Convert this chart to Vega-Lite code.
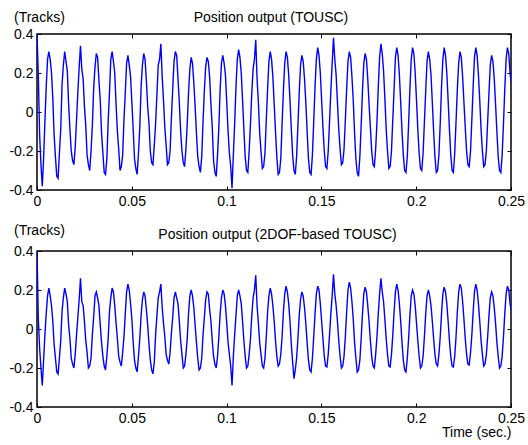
{
"$schema": "https://vega.github.io/schema/vega-lite/v6.json",
"padding": {"left": 8, "top": 9, "right": 1, "bottom": 2},
"spacing": 13,
"config": {
 "font": "Liberation Sans",
 "view": {"stroke": "black", "strokeWidth": 1.5},
 "axis": {"domain": false, "grid": false, "ticks": true, "tickSize": -4, "tickColor": "black", "labelFontSize": 14, "labelColor": "black", "labelPadding": 8, "labelFlush": false, "titleFontSize": 14, "titleFontWeight": "normal", "titleColor": "black", "labelFont": "Liberation Sans", "titleFont": "Liberation Sans"}
},
"datasets": {"sig": [
{"t":0,"a":0.4,"b":0.4},{"t":0.0007,"a":0.19,"b":0.05},{"t":0.00139,"a":-0.12,"b":-0.1},{"t":0.00209,"a":-0.27,"b":-0.2},{"t":0.00278,"a":-0.38,"b":-0.29},{"t":0.00348,"a":-0.24,"b":-0.16},{"t":0.00417,"a":-0.05,"b":-0.03},{"t":0.00487,"a":0.13,"b":0.08},{"t":0.00556,"a":0.27,"b":0.17},{"t":0.00626,"a":0.31,"b":0.21},{"t":0.00695,"a":0.27,"b":0.17},{"t":0.00765,"a":0.2,"b":0.12},
{"t":0.00834,"a":0.07,"b":0.04},{"t":0.00904,"a":-0.12,"b":-0.08},{"t":0.00973,"a":-0.23,"b":-0.15},{"t":0.01043,"a":-0.33,"b":-0.22},{"t":0.01112,"a":-0.34,"b":-0.23},{"t":0.01182,"a":-0.21,"b":-0.15},{"t":0.01251,"a":-0.09,"b":-0.06},{"t":0.01321,"a":0.14,"b":0.09},{"t":0.0139,"a":0.24,"b":0.16},{"t":0.0146,"a":0.31,"b":0.21},{"t":0.01529,"a":0.26,"b":0.18},{"t":0.01599,"a":0.21,"b":0.14},
{"t":0.01668,"a":0.04,"b":0.02},{"t":0.01738,"a":-0.09,"b":-0.05},{"t":0.01807,"a":-0.2,"b":-0.15},{"t":0.01877,"a":-0.25,"b":-0.18},{"t":0.01946,"a":-0.27,"b":-0.2},{"t":0.02016,"a":-0.18,"b":-0.13},{"t":0.02085,"a":-0.04,"b":-0.03},{"t":0.02155,"a":0.1,"b":0.06},{"t":0.02224,"a":0.23,"b":0.15},{"t":0.02294,"a":0.34,"b":0.26},{"t":0.02363,"a":0.22,"b":0.14},{"t":0.02433,"a":0.17,"b":0.12},
{"t":0.02502,"a":0.03,"b":0.04},{"t":0.02572,"a":-0.07,"b":-0.06},{"t":0.02641,"a":-0.22,"b":-0.12},{"t":0.02711,"a":-0.27,"b":-0.2},{"t":0.0278,"a":-0.3,"b":-0.19},{"t":0.0285,"a":-0.2,"b":-0.15},{"t":0.02919,"a":-0.07,"b":-0.03},{"t":0.02989,"a":0.12,"b":0.06},{"t":0.03058,"a":0.23,"b":0.17},{"t":0.03128,"a":0.3,"b":0.19},{"t":0.03197,"a":0.28,"b":0.16},{"t":0.03267,"a":0.16,"b":0.12},
{"t":0.03336,"a":0.06,"b":0.02},{"t":0.03406,"a":-0.11,"b":-0.07},{"t":0.03475,"a":-0.21,"b":-0.14},{"t":0.03545,"a":-0.31,"b":-0.19},{"t":0.03614,"a":-0.32,"b":-0.21},{"t":0.03684,"a":-0.24,"b":-0.14},{"t":0.03753,"a":-0.05,"b":-0.05},{"t":0.03823,"a":0.1,"b":0.09},{"t":0.03892,"a":0.27,"b":0.16},{"t":0.03962,"a":0.31,"b":0.21},{"t":0.04031,"a":0.26,"b":0.19},{"t":0.04101,"a":0.2,"b":0.12},
{"t":0.0417,"a":0.04,"b":0.03},{"t":0.0424,"a":-0.1,"b":-0.05},{"t":0.04309,"a":-0.19,"b":-0.14},{"t":0.04379,"a":-0.3,"b":-0.17},{"t":0.04448,"a":-0.28,"b":-0.19},{"t":0.04518,"a":-0.22,"b":-0.12},{"t":0.04587,"a":-0.04,"b":-0.04},{"t":0.04657,"a":0.1,"b":0.08},{"t":0.04726,"a":0.25,"b":0.19},{"t":0.04796,"a":0.29,"b":0.23},{"t":0.04865,"a":0.24,"b":0.2},{"t":0.04935,"a":0.18,"b":0.13},
{"t":0.05004,"a":0.05,"b":0.05},{"t":0.05074,"a":-0.09,"b":-0.07},{"t":0.05143,"a":-0.24,"b":-0.16},{"t":0.05213,"a":-0.29,"b":-0.2},{"t":0.05282,"a":-0.32,"b":-0.22},{"t":0.05352,"a":-0.21,"b":-0.14},{"t":0.05421,"a":-0.08,"b":-0.05},{"t":0.05491,"a":0.13,"b":0.07},{"t":0.0556,"a":0.24,"b":0.15},{"t":0.0563,"a":0.3,"b":0.19},{"t":0.05699,"a":0.27,"b":0.17},{"t":0.05769,"a":0.16,"b":0.1},
{"t":0.05838,"a":0.03,"b":0.02},{"t":0.05908,"a":-0.06,"b":-0.08},{"t":0.05977,"a":-0.2,"b":-0.16},{"t":0.06047,"a":-0.26,"b":-0.21},{"t":0.06116,"a":-0.27,"b":-0.23},{"t":0.06186,"a":-0.17,"b":-0.17},{"t":0.06255,"a":-0.06,"b":-0.03},{"t":0.06325,"a":0.09,"b":0.07},{"t":0.06394,"a":0.24,"b":0.16},{"t":0.06464,"a":0.27,"b":0.19},{"t":0.06533,"a":0.35,"b":0.23},{"t":0.06603,"a":0.18,"b":0.11},
{"t":0.06672,"a":0.06,"b":0.03},{"t":0.06742,"a":-0.08,"b":-0.04},{"t":0.06811,"a":-0.17,"b":-0.13},{"t":0.06881,"a":-0.27,"b":-0.16},{"t":0.0695,"a":-0.26,"b":-0.18},{"t":0.0702,"a":-0.2,"b":-0.12},{"t":0.07089,"a":-0.03,"b":-0.02},{"t":0.07159,"a":0.12,"b":0.06},{"t":0.07228,"a":0.26,"b":0.16},{"t":0.07298,"a":0.31,"b":0.19},{"t":0.07367,"a":0.29,"b":0.16},{"t":0.07437,"a":0.17,"b":0.13},
{"t":0.07506,"a":0.05,"b":0.04},{"t":0.07576,"a":-0.1,"b":-0.06},{"t":0.07645,"a":-0.2,"b":-0.13},{"t":0.07715,"a":-0.26,"b":-0.2},{"t":0.07784,"a":-0.28,"b":-0.19},{"t":0.07854,"a":-0.19,"b":-0.13},{"t":0.07923,"a":-0.06,"b":-0.05},{"t":0.07993,"a":0.1,"b":0.08},{"t":0.08062,"a":0.22,"b":0.17},{"t":0.08132,"a":0.28,"b":0.2},{"t":0.08201,"a":0.25,"b":0.17},{"t":0.08271,"a":0.15,"b":0.11},
{"t":0.0834,"a":0.03,"b":0.02},{"t":0.0841,"a":-0.11,"b":-0.07},{"t":0.08479,"a":-0.23,"b":-0.15},{"t":0.08549,"a":-0.28,"b":-0.21},{"t":0.08618,"a":-0.31,"b":-0.2},{"t":0.08688,"a":-0.23,"b":-0.15},{"t":0.08757,"a":-0.05,"b":-0.03},{"t":0.08827,"a":0.11,"b":0.06},{"t":0.08896,"a":0.23,"b":0.15},{"t":0.08966,"a":0.28,"b":0.19},{"t":0.09035,"a":0.26,"b":0.18},{"t":0.09105,"a":0.18,"b":0.1},
{"t":0.09174,"a":0.04,"b":0.04},{"t":0.09244,"a":-0.08,"b":-0.06},{"t":0.09313,"a":-0.25,"b":-0.14},{"t":0.09383,"a":-0.31,"b":-0.18},{"t":0.09452,"a":-0.33,"b":-0.2},{"t":0.09522,"a":-0.22,"b":-0.14},{"t":0.09591,"a":-0.08,"b":-0.04},{"t":0.09661,"a":0.12,"b":0.08},{"t":0.0973,"a":0.25,"b":0.16},{"t":0.098,"a":0.29,"b":0.2},{"t":0.09869,"a":0.25,"b":0.18},{"t":0.09939,"a":0.19,"b":0.12},
{"t":0.10008,"a":0.05,"b":0.03},{"t":0.10078,"a":-0.1,"b":-0.07},{"t":0.10147,"a":-0.21,"b":-0.13},{"t":0.10217,"a":-0.28,"b":-0.19},{"t":0.10286,"a":-0.39,"b":-0.29},{"t":0.10356,"a":-0.22,"b":-0.14},{"t":0.10425,"a":-0.06,"b":-0.03},{"t":0.10495,"a":0.13,"b":0.07},{"t":0.10564,"a":0.27,"b":0.17},{"t":0.10634,"a":0.32,"b":0.2},{"t":0.10703,"a":0.28,"b":0.17},{"t":0.10773,"a":0.2,"b":0.13},
{"t":0.10842,"a":0.06,"b":0.04},{"t":0.10912,"a":-0.09,"b":-0.06},{"t":0.10981,"a":-0.23,"b":-0.14},{"t":0.11051,"a":-0.3,"b":-0.2},{"t":0.1112,"a":-0.31,"b":-0.19},{"t":0.1119,"a":-0.2,"b":-0.13},{"t":0.11259,"a":-0.06,"b":-0.05},{"t":0.11329,"a":0.1,"b":0.07},{"t":0.11398,"a":0.22,"b":0.16},{"t":0.11468,"a":0.27,"b":0.2},{"t":0.11537,"a":0.37,"b":0.275},{"t":0.11607,"a":0.17,"b":0.12},
{"t":0.11676,"a":0.05,"b":0.03},{"t":0.11746,"a":-0.11,"b":-0.07},{"t":0.11815,"a":-0.2,"b":-0.13},{"t":0.11885,"a":-0.29,"b":-0.19},{"t":0.11954,"a":-0.28,"b":-0.2},{"t":0.12024,"a":-0.21,"b":-0.15},{"t":0.12093,"a":-0.04,"b":-0.04},{"t":0.12163,"a":0.12,"b":0.09},{"t":0.12232,"a":0.26,"b":0.17},{"t":0.12302,"a":0.31,"b":0.21},{"t":0.12371,"a":0.27,"b":0.18},{"t":0.12441,"a":0.18,"b":0.12},
{"t":0.1251,"a":0.04,"b":0.04},{"t":0.1258,"a":-0.1,"b":-0.06},{"t":0.12649,"a":-0.23,"b":-0.14},{"t":0.12719,"a":-0.32,"b":-0.19},{"t":0.12788,"a":-0.31,"b":-0.18},{"t":0.12858,"a":-0.24,"b":-0.13},{"t":0.12927,"a":-0.06,"b":-0.04},{"t":0.12997,"a":0.11,"b":0.09},{"t":0.13066,"a":0.25,"b":0.18},{"t":0.13136,"a":0.31,"b":0.22},{"t":0.13205,"a":0.28,"b":0.19},{"t":0.13275,"a":0.19,"b":0.13},
{"t":0.13344,"a":0.06,"b":0.04},{"t":0.13414,"a":-0.09,"b":-0.08},{"t":0.13483,"a":-0.22,"b":-0.17},{"t":0.13553,"a":-0.3,"b":-0.255},{"t":0.13622,"a":-0.32,"b":-0.21},{"t":0.13692,"a":-0.23,"b":-0.15},{"t":0.13761,"a":-0.07,"b":-0.05},{"t":0.13831,"a":0.1,"b":0.07},{"t":0.139,"a":0.24,"b":0.15},{"t":0.1397,"a":0.29,"b":0.19},{"t":0.14039,"a":0.26,"b":0.17},{"t":0.14109,"a":0.17,"b":0.11},
{"t":0.14178,"a":0.05,"b":0.03},{"t":0.14248,"a":-0.1,"b":-0.07},{"t":0.14317,"a":-0.24,"b":-0.16},{"t":0.14387,"a":-0.31,"b":-0.21},{"t":0.14456,"a":-0.32,"b":-0.22},{"t":0.14526,"a":-0.22,"b":-0.15},{"t":0.14595,"a":-0.05,"b":-0.04},{"t":0.14665,"a":0.13,"b":0.08},{"t":0.14734,"a":0.27,"b":0.18},{"t":0.14804,"a":0.33,"b":0.22},{"t":0.14873,"a":0.29,"b":0.2},{"t":0.14943,"a":0.2,"b":0.13},
{"t":0.15012,"a":0.06,"b":0.04},{"t":0.15082,"a":-0.08,"b":-0.05},{"t":0.15151,"a":-0.2,"b":-0.14},{"t":0.15221,"a":-0.28,"b":-0.19},{"t":0.1529,"a":-0.29,"b":-0.195},{"t":0.1536,"a":-0.2,"b":-0.13},{"t":0.15429,"a":-0.05,"b":-0.03},{"t":0.15499,"a":0.11,"b":0.08},{"t":0.15568,"a":0.25,"b":0.17},{"t":0.15638,"a":0.38,"b":0.28},{"t":0.15707,"a":0.27,"b":0.18},{"t":0.15777,"a":0.19,"b":0.12},
{"t":0.15846,"a":0.05,"b":0.04},{"t":0.15916,"a":-0.09,"b":-0.06},{"t":0.15985,"a":-0.19,"b":-0.14},{"t":0.16055,"a":-0.27,"b":-0.2},{"t":0.16124,"a":-0.26,"b":-0.19},{"t":0.16194,"a":-0.19,"b":-0.14},{"t":0.16263,"a":-0.04,"b":-0.04},{"t":0.16333,"a":0.12,"b":0.09},{"t":0.16402,"a":0.26,"b":0.2},{"t":0.16472,"a":0.31,"b":0.24},{"t":0.16541,"a":0.28,"b":0.21},{"t":0.16611,"a":0.18,"b":0.14},
{"t":0.1668,"a":0.06,"b":0.05},{"t":0.1675,"a":-0.11,"b":-0.07},{"t":0.16819,"a":-0.24,"b":-0.15},{"t":0.16889,"a":-0.31,"b":-0.22},{"t":0.16958,"a":-0.33,"b":-0.21},{"t":0.17028,"a":-0.23,"b":-0.16},{"t":0.17097,"a":-0.07,"b":-0.05},{"t":0.17167,"a":0.11,"b":0.08},{"t":0.17236,"a":0.25,"b":0.18},{"t":0.17306,"a":0.3,"b":0.215},{"t":0.17375,"a":0.27,"b":0.19},{"t":0.17445,"a":0.17,"b":0.12},
{"t":0.17514,"a":0.04,"b":0.04},{"t":0.17584,"a":-0.08,"b":-0.06},{"t":0.17653,"a":-0.2,"b":-0.14},{"t":0.17723,"a":-0.27,"b":-0.19},{"t":0.17792,"a":-0.28,"b":-0.2},{"t":0.17862,"a":-0.19,"b":-0.13},{"t":0.17931,"a":-0.05,"b":-0.04},{"t":0.18001,"a":0.13,"b":0.08},{"t":0.1807,"a":0.28,"b":0.18},{"t":0.1814,"a":0.35,"b":0.26},{"t":0.18209,"a":0.3,"b":0.19},{"t":0.18279,"a":0.21,"b":0.14},
{"t":0.18348,"a":0.07,"b":0.05},{"t":0.18418,"a":-0.09,"b":-0.05},{"t":0.18487,"a":-0.2,"b":-0.13},{"t":0.18557,"a":-0.29,"b":-0.19},{"t":0.18626,"a":-0.28,"b":-0.195},{"t":0.18696,"a":-0.2,"b":-0.13},{"t":0.18765,"a":-0.04,"b":-0.03},{"t":0.18835,"a":0.12,"b":0.09},{"t":0.18904,"a":0.28,"b":0.19},{"t":0.18974,"a":0.33,"b":0.23},{"t":0.19043,"a":0.29,"b":0.2},{"t":0.19113,"a":0.19,"b":0.13},
{"t":0.19182,"a":0.05,"b":0.04},{"t":0.19252,"a":-0.1,"b":-0.07},{"t":0.19321,"a":-0.22,"b":-0.16},{"t":0.19391,"a":-0.3,"b":-0.21},{"t":0.1946,"a":-0.31,"b":-0.22},{"t":0.1953,"a":-0.23,"b":-0.15},{"t":0.19599,"a":-0.06,"b":-0.05},{"t":0.19669,"a":0.12,"b":0.07},{"t":0.19738,"a":0.27,"b":0.17},{"t":0.19808,"a":0.33,"b":0.2},{"t":0.19877,"a":0.3,"b":0.18},{"t":0.19947,"a":0.2,"b":0.12},
{"t":0.20016,"a":0.06,"b":0.03},{"t":0.20086,"a":-0.09,"b":-0.06},{"t":0.20155,"a":-0.21,"b":-0.14},{"t":0.20225,"a":-0.29,"b":-0.2},{"t":0.20294,"a":-0.3,"b":-0.19},{"t":0.20364,"a":-0.21,"b":-0.14},{"t":0.20433,"a":-0.05,"b":-0.04},{"t":0.20503,"a":0.11,"b":0.08},{"t":0.20572,"a":0.26,"b":0.17},{"t":0.20642,"a":0.31,"b":0.2},{"t":0.20711,"a":0.27,"b":0.17},{"t":0.20781,"a":0.19,"b":0.12},
{"t":0.2085,"a":0.05,"b":0.04},{"t":0.2092,"a":-0.1,"b":-0.05},{"t":0.20989,"a":-0.23,"b":-0.13},{"t":0.21059,"a":-0.31,"b":-0.18},{"t":0.21128,"a":-0.3,"b":-0.19},{"t":0.21198,"a":-0.22,"b":-0.13},{"t":0.21267,"a":-0.06,"b":-0.04},{"t":0.21337,"a":0.13,"b":0.08},{"t":0.21406,"a":0.27,"b":0.18},{"t":0.21476,"a":0.33,"b":0.215},{"t":0.21545,"a":0.29,"b":0.19},{"t":0.21615,"a":0.2,"b":0.13},
{"t":0.21684,"a":0.06,"b":0.04},{"t":0.21754,"a":-0.09,"b":-0.06},{"t":0.21823,"a":-0.22,"b":-0.14},{"t":0.21893,"a":-0.3,"b":-0.19},{"t":0.21962,"a":-0.31,"b":-0.195},{"t":0.22032,"a":-0.21,"b":-0.14},{"t":0.22101,"a":-0.05,"b":-0.04},{"t":0.22171,"a":0.12,"b":0.09},{"t":0.2224,"a":0.25,"b":0.19},{"t":0.2231,"a":0.31,"b":0.23},{"t":0.22379,"a":0.28,"b":0.21},{"t":0.22449,"a":0.18,"b":0.14},
{"t":0.22518,"a":0.05,"b":0.05},{"t":0.22588,"a":-0.08,"b":-0.05},{"t":0.22657,"a":-0.2,"b":-0.13},{"t":0.22727,"a":-0.27,"b":-0.18},{"t":0.22796,"a":-0.28,"b":-0.185},{"t":0.22866,"a":-0.2,"b":-0.12},{"t":0.22935,"a":-0.04,"b":-0.03},{"t":0.23005,"a":0.13,"b":0.09},{"t":0.23074,"a":0.28,"b":0.19},{"t":0.23144,"a":0.33,"b":0.23},{"t":0.23213,"a":0.29,"b":0.2},{"t":0.23283,"a":0.19,"b":0.13},
{"t":0.23352,"a":0.06,"b":0.04},{"t":0.23422,"a":-0.09,"b":-0.06},{"t":0.23491,"a":-0.2,"b":-0.13},{"t":0.23561,"a":-0.28,"b":-0.19},{"t":0.2363,"a":-0.27,"b":-0.18},{"t":0.237,"a":-0.2,"b":-0.13},{"t":0.23769,"a":-0.05,"b":-0.04},{"t":0.23839,"a":0.1,"b":0.07},{"t":0.23908,"a":0.24,"b":0.16},{"t":0.23978,"a":0.29,"b":0.19},{"t":0.24047,"a":0.26,"b":0.17},{"t":0.24117,"a":0.17,"b":0.11},
{"t":0.24186,"a":0.04,"b":0.03},{"t":0.24256,"a":-0.1,"b":-0.07},{"t":0.24325,"a":-0.23,"b":-0.14},{"t":0.24395,"a":-0.3,"b":-0.2},{"t":0.24464,"a":-0.31,"b":-0.19},{"t":0.24534,"a":-0.22,"b":-0.14},{"t":0.24603,"a":-0.06,"b":-0.04},{"t":0.24673,"a":0.12,"b":0.08},{"t":0.24742,"a":0.27,"b":0.18},{"t":0.24812,"a":0.33,"b":0.22},{"t":0.24881,"a":0.3,"b":0.2},{"t":0.24951,"a":0.2,"b":0.13},
{"t":0.25,"a":0.155,"b":0.1}
]},
"data": {"name": "sig"},
"vconcat": [
 {
  "width": 474, "height": 156,
  "layer": [
   {"mark": {"type": "line", "color": "#0000ff", "strokeWidth": 1.4, "clip": true},
    "encoding": {
     "x": {"field": "t", "type": "quantitative", "scale": {"domain": [0, 0.25], "nice": false, "zero": false}, "axis": {"orient": "bottom", "values": [0, 0.05, 0.1, 0.15, 0.2, 0.25], "title": null, "labelExpr": "toString(datum.value)"}},
     "y": {"field": "a", "type": "quantitative", "scale": {"domain": [-0.4, 0.4], "nice": false, "zero": false}, "axis": {"orient": "left", "values": [-0.4, -0.2, 0, 0.2, 0.4], "title": "(Tracks)", "titleAngle": 0, "titleAlign": "left", "titleBaseline": "middle", "titleX": -23.5, "titleY": -16.5, "labelExpr": "toString(datum.value)"}}
    }},
   {"mark": {"type": "line", "opacity": 0},
    "encoding": {
     "x": {"field": "t", "type": "quantitative", "axis": {"orient": "top", "values": [0, 0.05, 0.1, 0.15, 0.2, 0.25], "labels": false, "title": "Position output (TOUSC)", "titleAlign": "center", "titleBaseline": "middle", "titleX": 233.5, "titleY": -16.5}},
     "y": {"field": "a", "type": "quantitative", "axis": {"orient": "right", "values": [-0.4, -0.2, 0, 0.2, 0.4], "labels": false, "title": null}}
    }}
  ],
  "resolve": {"axis": {"x": "independent", "y": "independent"}}
 },
 {
  "width": 474, "height": 156,
  "layer": [
   {"mark": {"type": "line", "color": "#0000ff", "strokeWidth": 1.4, "clip": true},
    "encoding": {
     "x": {"field": "t", "type": "quantitative", "scale": {"domain": [0, 0.25], "nice": false, "zero": false}, "axis": {"orient": "bottom", "values": [0, 0.05, 0.1, 0.15, 0.2, 0.25], "title": "Time (sec.)", "titleAnchor": "end", "titlePadding": 0, "labelExpr": "toString(datum.value)"}},
     "y": {"field": "b", "type": "quantitative", "scale": {"domain": [-0.4, 0.4], "nice": false, "zero": false}, "axis": {"orient": "left", "values": [-0.4, -0.2, 0, 0.2, 0.4], "title": "(Tracks)", "titleAngle": 0, "titleAlign": "left", "titleBaseline": "middle", "titleX": -23.5, "titleY": -21, "labelExpr": "toString(datum.value)"}}
    }},
   {"mark": {"type": "line", "opacity": 0},
    "encoding": {
     "x": {"field": "t", "type": "quantitative", "axis": {"orient": "top", "values": [0, 0.05, 0.1, 0.15, 0.2, 0.25], "labels": false, "title": "Position output (2DOF-based TOUSC)", "titleAlign": "center", "titleBaseline": "middle", "titleX": 240, "titleY": -16.3}},
     "y": {"field": "b", "type": "quantitative", "axis": {"orient": "right", "values": [-0.4, -0.2, 0, 0.2, 0.4], "labels": false, "title": null}}
    }}
  ],
  "resolve": {"axis": {"x": "independent", "y": "independent"}}
 }
]
}
